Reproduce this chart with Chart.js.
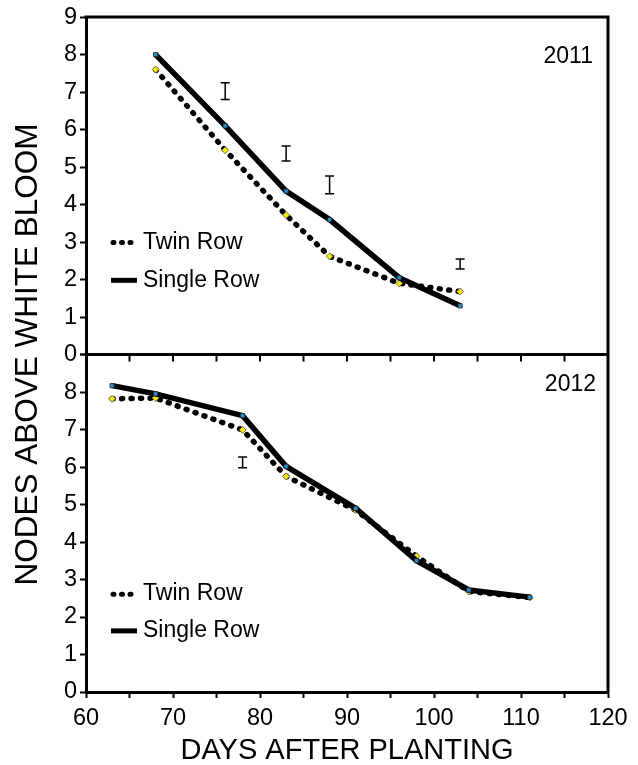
<!DOCTYPE html>
<html>
<head>
<meta charset="utf-8">
<script src="https://cdn.jsdelivr.net/npm/chart.js@4.4.1/dist/chart.umd.min.js"></script>
<style>
  html, body { margin: 0; padding: 0; background: #fff; }
  #wrap { width: 638px; height: 765px; position: relative; }
</style>
</head>
<body>
<div id="wrap"><canvas id="chart"></canvas></div>
<script>
// 2011 panel
const days2011 = [68, 76, 83, 88, 96, 103];
const twin2011 = [7.6, 5.45, 3.72, 2.62, 1.9, 1.68];
const single2011 = [8.0, 6.1, 4.36, 3.6, 2.05, 1.3];
const lsdDays2011 = [76, 83, 88, 103];
const lsdLow2011 = [6.8, 5.16, 4.29, 2.28];
const lsdHigh2011 = [7.25, 5.56, 4.76, 2.55];

// 2012 panel
const days2012 = [63, 68, 78, 83, 91, 98, 104, 111];
const twin2012 = [7.82, 7.84, 6.99, 5.75, 4.85, 3.62, 2.68, 2.52];
const single2012 = [8.17, 7.95, 7.37, 6.02, 4.9, 3.5, 2.72, 2.53];
const lsdDays2012 = [78];
const lsdLow2012 = [5.98];
const lsdHigh2012 = [6.27];

const yearLabels = ['2011', '2012'];
const seriesNames = ['Twin Row', 'Single Row'];
const xTitle = 'DAYS AFTER PLANTING';
const yTitle = 'NODES ABOVE WHITE BLOOM';

const FONT = '"Liberation Sans", Arial, sans-serif';
const dotDash = [1, 8.5];

function pts(xs, ys) {
  return xs.map((x, i) => ({ x: x, y: ys[i] }));
}

function twinSet(xs, ys, axis) {
  return {
    label: seriesNames[0], data: pts(xs, ys), yAxisID: axis,
    borderColor: '#000', borderWidth: 5.5, borderDash: dotDash, borderCapStyle: 'round',
    pointStyle: 'rectRot', pointRadius: 3.5, pointBackgroundColor: '#f2ea00',
    pointBorderColor: '#555', pointBorderWidth: 0.8, tension: 0, order: 2
  };
}

function singleSet(xs, ys, axis) {
  return {
    label: seriesNames[1], data: pts(xs, ys), yAxisID: axis,
    borderColor: '#000', borderWidth: 5.5, borderCapStyle: 'butt',
    pointStyle: 'rect', pointRadius: 3, pointBackgroundColor: '#2a90d0',
    pointBorderColor: '#222', pointBorderWidth: 0.8, tension: 0, order: 1
  };
}

function lsdSets(xs, low, high, axis) {
  return xs.map((x, i) => ({
    label: 'LSD', data: [{ x: x, y: low[i] }, { x: x, y: high[i] }], yAxisID: axis,
    borderColor: '#000', borderWidth: 1.5, showLine: true,
    pointStyle: 'line', pointRadius: 4.5, pointBorderColor: '#000', pointBorderWidth: 1.5, order: 0
  }));
}

// frame, middle divider, legends, year labels, y title
const decor = {
  id: 'decor',
  afterDraw(chart) {
    const ctx = chart.ctx;
    const a = chart.chartArea;
    const xs = chart.scales.x;
    const yT = chart.scales.yTop;
    const yB = chart.scales.yBot;
    ctx.save();
    ctx.strokeStyle = '#000';
    ctx.lineWidth = 3;
    ctx.beginPath();
    ctx.moveTo(a.left - 1.5, a.top);
    ctx.lineTo(a.right, a.top);
    ctx.lineTo(a.right, a.bottom + 1.5);
    ctx.stroke();

    // divider between panels with tick marks
    const mid = yT.bottom;
    ctx.beginPath();
    ctx.moveTo(a.left, mid);
    ctx.lineTo(a.right, mid);
    ctx.stroke();
    ctx.lineWidth = 2;
    for (let v = 65; v < 120; v += 5) {
      const px = xs.getPixelForValue(v);
      ctx.beginPath();
      ctx.moveTo(px, mid);
      ctx.lineTo(px, mid + 7);
      ctx.stroke();
    }

    // year labels
    ctx.fillStyle = '#000';
    ctx.font = '23px ' + FONT;
    ctx.textAlign = 'right';
    ctx.textBaseline = 'middle';
    ctx.fillText(yearLabels[0], a.right - 15, yT.top + 40);
    ctx.fillText(yearLabels[1], a.right - 12, yB.top + 30);

    // legends
    const legendRows = [
      [yT.getPixelForValue(2.99), yT.getPixelForValue(1.98)],
      [yB.getPixelForValue(2.61), yB.getPixelForValue(1.63)]
    ];
    const lx0 = a.left + 26, lx1 = a.left + 50, tx = a.left + 57;
    legendRows.forEach(r => {
      ctx.lineWidth = 5;
      ctx.lineCap = 'round';
      ctx.setLineDash([1, 7.5]);
      ctx.beginPath();
      ctx.moveTo(lx0 + 1, r[0]);
      ctx.lineTo(lx1, r[0]);
      ctx.stroke();
      ctx.setLineDash([]);
      ctx.lineCap = 'butt';
      ctx.lineWidth = 5;
      ctx.beginPath();
      ctx.moveTo(lx0 - 1, r[1]);
      ctx.lineTo(lx1 + 1, r[1]);
      ctx.stroke();
      ctx.textAlign = 'left';
      ctx.font = '23px ' + FONT;
      ctx.fillText(seriesNames[0], tx, r[0]);
      ctx.fillText(seriesNames[1], tx, r[1]);
    });

    // shared y title
    ctx.save();
    ctx.translate(28, (a.top + a.bottom) / 2);
    ctx.rotate(-Math.PI / 2);
    ctx.textAlign = 'center';
    ctx.textBaseline = 'middle';
    ctx.font = '31.5px ' + FONT;
    ctx.fillText(yTitle, 0, 0);
    ctx.restore();
    ctx.restore();
  }
};

const yAxis = (hideTop) => ({
  type: 'linear', min: 0, max: 9, position: 'left', stack: 'panels', stackWeight: 1,
  border: { display: true, color: '#000', width: 3 },
  grid: { drawOnChartArea: false, drawTicks: true, tickLength: 6, tickWidth: 2, color: '#000' },
  ticks: {
    stepSize: 1, autoSkip: false, color: '#000', padding: 3, font: { family: FONT, size: 23.5 },
    callback: v => (hideTop && v === 9) ? '' : String(v)
  },
  afterFit: s => { s.width = 86; }
});

new Chart(document.getElementById('chart'), {
  type: 'line',
  data: {
    datasets: [
      twinSet(days2011, twin2011, 'yTop'),
      singleSet(days2011, single2011, 'yTop'),
      ...lsdSets(lsdDays2011, lsdLow2011, lsdHigh2011, 'yTop'),
      twinSet(days2012, twin2012, 'yBot'),
      singleSet(days2012, single2012, 'yBot'),
      ...lsdSets(lsdDays2012, lsdLow2012, lsdHigh2012, 'yBot')
    ]
  },
  options: {
    responsive: true,
    maintainAspectRatio: false,
    animation: false,
    layout: { padding: { top: 15, right: 30, left: 0, bottom: 0 } },
    plugins: { legend: { display: false }, tooltip: { enabled: false } },
    scales: {
      x: {
        type: 'linear', min: 60, max: 120,
        border: { display: true, color: '#000', width: 3 },
        grid: { drawOnChartArea: false, drawTicks: true, tickLength: 6, tickWidth: 2, color: '#000' },
        ticks: {
          stepSize: 5, color: '#000', padding: 6, maxRotation: 0, autoSkip: false,
          font: { family: FONT, size: 23.5 },
          callback: v => (v % 10 === 0 ? String(v) : '')
        },
        title: {
          display: true, text: xTitle, color: '#000',
          font: { family: FONT, size: 29, lineHeight: 1 }, padding: { top: 0, bottom: 0 }
        },
        afterFit: s => { s.height = 73; }
      },
      yBot: yAxis(true),
      yTop: yAxis(false)
    }
  },
  plugins: [decor]
});
</script>
</body>
</html>
